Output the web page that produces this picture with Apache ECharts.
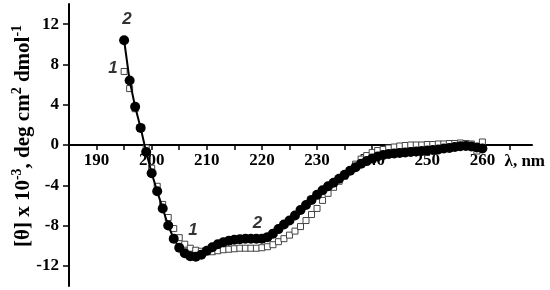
<!DOCTYPE html>
<html>
<head>
<meta charset="utf-8">
<script src="https://cdn.jsdelivr.net/npm/echarts@6/dist/echarts.min.js"></script>
<style>
  html, body { margin: 0; padding: 0; background: #fff; }
  #chart { width: 550px; height: 290px; }
</style>
</head>
<body>
<div id="chart"></div>
<script>
  // wavelength, nm (1 nm steps)
  const wavelengths = [
    195, 196, 197, 198, 199, 200, 201, 202, 203, 204,
    205, 206, 207, 208, 209, 210, 211, 212, 213, 214,
    215, 216, 217, 218, 219, 220, 221, 222, 223, 224,
    225, 226, 227, 228, 229, 230, 231, 232, 233, 234,
    235, 236, 237, 238, 239, 240, 241, 242, 243, 244,
    245, 246, 247, 248, 249, 250, 251, 252, 253, 254,
    255, 256, 257, 258, 259, 260
  ];
  // curve 1 - open squares
  const curve1 = [
    7.3, 5.6, 3.6, 1.65, -0.3, -2.3, -4.1, -5.9, -7.2, -8.3,
    -9.2, -9.85, -10.25, -10.45, -10.55, -10.6, -10.6, -10.5, -10.4, -10.35,
    -10.3, -10.25, -10.25, -10.25, -10.25, -10.2, -10.1, -9.9, -9.6, -9.3,
    -8.95, -8.55, -8.1, -7.5, -6.9, -6.3, -5.5, -4.8, -4.2, -3.6,
    -3.1, -2.5, -1.9, -1.4, -1.05, -0.75, -0.55, -0.45, -0.3, -0.2,
    -0.1, -0.05, 0, 0, 0, 0.05, 0.05, 0.1, 0.1, 0.15,
    0.15, 0.2, 0.15, 0.1, -0.6, 0.3
  ];
  // curve 2 - filled circles
  const curve2 = [
    10.4, 6.4, 3.8, 1.7, -0.7, -2.8, -4.6, -6.3, -8.0, -9.3,
    -10.2, -10.75, -11.05, -11.1, -10.9, -10.5, -10.15, -9.85, -9.65, -9.5,
    -9.4, -9.35, -9.3, -9.3, -9.3, -9.3, -9.15, -8.8, -8.35, -7.9,
    -7.5, -7.0, -6.45, -5.95, -5.45, -4.95, -4.5, -4.1, -3.75, -3.35,
    -2.95, -2.55, -2.2, -1.85, -1.6, -1.35, -1.15, -1.0, -0.9, -0.85,
    -0.8, -0.75, -0.7, -0.65, -0.6, -0.55, -0.5, -0.45, -0.35, -0.3,
    -0.2, -0.12, -0.1, -0.15, -0.25, -0.35
  ];
  const xTickLabels = [190, 200, 210, 220, 230, 240, 250, 260];
  const xTicks = [190, 195, 200, 205, 210, 215, 220, 225, 230, 235, 240, 245, 250, 255, 260, 265];
  const yTickLabels = [-12, -8, -4, 0, 4, 8, 12];
  // curve number labels [x, y, text]
  const curveLabels = [
    [195.5, 12.5, '2'],
    [193, 7.6, '1'],
    [207.5, -8.5, '1'],
    [219.2, -7.8, '2']
  ];

  const serif = '"Liberation Serif", "Times New Roman", serif';
  const gridTop = 4, gridBottom = 4;
  const chart = echarts.init(document.getElementById('chart'));

  // x axis sits on y = 0, which is the middle of the symmetric y range
  const zeroOffset = -(290 - gridTop - gridBottom) / 2;

  chart.setOption({
    animation: false,
    grid: { left: 69, right: 18, top: gridTop, bottom: gridBottom, outerBoundsMode: 'none' },
    xAxis: {
      type: 'value',
      min: 185,
      max: 269,
      position: 'bottom',
      offset: zeroOffset,
      name: 'λ, nm',
      nameLocation: 'end',
      nameGap: 0,
      nameMoveOverlap: false,
      nameTextStyle: {
        fontFamily: serif, fontWeight: 'bold', fontSize: 17, color: '#000',
        align: 'right', verticalAlign: 'top', padding: [8, -13, 0, 0]
      },
      axisLine: { onZero: false, lineStyle: { color: '#000', width: 2 } },
      axisTick: { customValues: xTicks, length: 5, lineStyle: { color: '#000', width: 1.5 } },
      axisLabel: {
        customValues: xTickLabels, margin: 7,
        fontFamily: serif, fontWeight: 'bold', fontSize: 17, color: '#000'
      },
      splitLine: { show: false }
    },
    yAxis: {
      type: 'value',
      min: -14,
      max: 14,
      name: '{n|[θ] x 10}{s|-3}{n|, deg cm}{s|2}{n| dmol}{s|-1}',
      nameLocation: 'middle',
      nameRotate: 90,
      nameGap: 35,
      nameMoveOverlap: false,
      nameTextStyle: {
        padding: [0, 0, 0, 18],
        rich: {
          n: { fontFamily: serif, fontWeight: 'bold', fontSize: 21, color: '#000', verticalAlign: 'bottom', lineHeight: 24 },
          s: { fontFamily: serif, fontWeight: 'bold', fontSize: 14, color: '#000', verticalAlign: 'top', lineHeight: 24, padding: [0, 0, 12, 0] }
        }
      },
      axisLine: { lineStyle: { color: '#000', width: 2 } },
      axisTick: { customValues: yTickLabels, length: 6, lineStyle: { color: '#000', width: 1.5 } },
      axisLabel: {
        customValues: yTickLabels, margin: 10,
        fontFamily: serif, fontWeight: 'bold', fontSize: 17, color: '#000'
      },
      splitLine: { show: false }
    },
    series: [
      {
        name: '1',
        type: 'line',
        z: 2,
        data: wavelengths.map((w, i) => [w, curve1[i]]),
        symbol: 'rect',
        symbolSize: 6,
        showAllSymbol: true,
        lineStyle: { width: 0 },
        itemStyle: { color: '#fff', borderColor: '#444', borderWidth: 1 }
      },
      {
        name: '2',
        type: 'line',
        z: 3,
        data: wavelengths.map((w, i) => [w, curve2[i]]),
        symbol: 'circle',
        symbolSize: 10,
        showAllSymbol: true,
        lineStyle: { color: '#000', width: 2 },
        itemStyle: { color: '#000' }
      },
      {
        type: 'scatter',
        z: 4,
        symbolSize: 0,
        data: curveLabels.map(d => ({ value: [d[0], d[1]], name: d[2] })),
        label: {
          show: true,
          position: 'inside',
          formatter: p => p.name,
          fontFamily: '"Liberation Sans", Arial, sans-serif',
          fontStyle: 'italic', fontWeight: 'bold', fontSize: 17, color: '#000'
        }
      }
    ]
  });
</script>
</body>
</html>
